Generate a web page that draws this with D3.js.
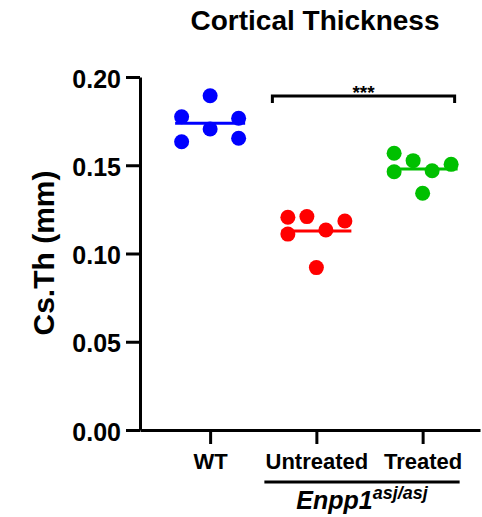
<!DOCTYPE html>
<html>
<head>
<meta charset="utf-8">
<script src="https://cdn.jsdelivr.net/npm/d3@7"></script>
<style>
  body { margin: 0; background: #fff; }
  svg text { font-family: "Liberation Sans", Arial, sans-serif; font-weight: bold; fill: #000; }
</style>
</head>
<body>
<div id="chart"></div>
<script>
// groups and colours
var groups = ["WT", "Untreated", "Treated"];
var groupColors = ["#0000ff", "#ff0000", "#00c000"];

// cortical thickness (mm) per animal
var wtValues = [0.1894, 0.1775, 0.1766, 0.1705, 0.1653, 0.1633];
var untreatedValues = [0.1209, 0.1205, 0.1184, 0.1133, 0.1110, 0.0920];
var treatedValues = [0.1568, 0.1526, 0.1505, 0.1469, 0.1463, 0.1341];

// scatter column slot of each point (GraphPad style spread)
var wtSlots = [0, -3, 3, 0, 3, -3];
var untreatedSlots = [-1, -3, 3, 1, -3, 0];
var treatedSlots = [-3, -1, 3, 1, -3, 0];

var yTicks = [0, 0.05, 0.10, 0.15, 0.20];

var W = 482, H = 517;
var slotStep = 9.5, dotR = 7.5, meanHalf = 35;

var svg = d3.select("#chart").append("svg")
  .attr("width", W)
  .attr("height", H);

var yScale = d3.scaleLinear().domain([0, 0.2]).range([430, 77]);
var xScale = d3.scalePoint().domain(groups).range([140, 480]).padding(0.6).align(0.55);

// title
svg.append("text")
  .attr("x", 315).attr("y", 30)
  .attr("text-anchor", "middle")
  .style("font-size", "28px")
  .text("Cortical Thickness");

// y axis
var yAxis = svg.append("g")
  .attr("transform", "translate(140,0)")
  .call(d3.axisLeft(yScale).tickValues(yTicks).tickFormat(d3.format(".2f")).tickSize(14).tickSizeOuter(0).tickPadding(5));

// x axis
var xAxis = svg.append("g")
  .attr("transform", "translate(0,430)")
  .call(d3.axisBottom(xScale).tickSize(14).tickSizeOuter(0));

[yAxis, xAxis].forEach(function(ax) {
  ax.select(".domain").attr("stroke", "#000").attr("stroke-width", 3);
  ax.selectAll(".tick line").attr("stroke", "#000").attr("stroke-width", 3);
  ax.selectAll(".tick text").attr("fill", "#000").style("font-family", null);
});
yAxis.selectAll(".tick text").style("font-size", "25px").attr("dy", "0.4em");
xAxis.selectAll(".tick text").style("font-size", "22px").attr("y", 39).attr("dy", 0);

// y axis label
svg.append("text")
  .attr("transform", "translate(54,253) rotate(-90)")
  .attr("text-anchor", "middle")
  .style("font-size", "30px")
  .text("Cs.Th (mm)");

// points and mean lines
var series = [wtValues, untreatedValues, treatedValues];
var slots = [wtSlots, untreatedSlots, treatedSlots];

series.forEach(function(vals, g) {
  var cx = xScale(groups[g]);
  var m = d3.mean(vals);

  svg.append("line")
    .attr("x1", cx - meanHalf).attr("x2", cx + meanHalf)
    .attr("y1", yScale(m)).attr("y2", yScale(m))
    .attr("stroke", groupColors[g])
    .attr("stroke-width", 3);

  svg.selectAll(".dot" + g)
    .data(vals)
    .enter().append("circle")
    .attr("class", "dot" + g)
    .attr("cx", function(d, i) { return cx + slots[g][i] * slotStep; })
    .attr("cy", function(d) { return yScale(d); })
    .attr("r", dotR)
    .attr("fill", groupColors[g]);
});

// significance bracket between untreated and treated
var bx1 = xScale("Untreated") - 44, bx2 = xScale("Treated") + 32, by = 96;
svg.append("path")
  .attr("d", "M" + bx1 + "," + (by + 7) + "V" + by + "H" + bx2 + "V" + (by + 7))
  .attr("fill", "none")
  .attr("stroke", "#000")
  .attr("stroke-width", 3);
svg.append("text")
  .attr("x", (bx1 + bx2) / 2).attr("y", by + 3)
  .attr("text-anchor", "middle")
  .style("font-size", "19px")
  .text("***");

// genotype group line + label
var gx1 = xScale("Untreated") - 52, gx2 = xScale("Treated") + 37;
svg.append("line")
  .attr("x1", gx1).attr("x2", gx2)
  .attr("y1", 482).attr("y2", 482)
  .attr("stroke", "#000")
  .attr("stroke-width", 3);

var gl = svg.append("text")
  .attr("x", (gx1 + gx2) / 2).attr("y", 509)
  .attr("text-anchor", "middle")
  .style("font-size", "25px")
  .style("font-style", "italic");
gl.append("tspan").text("Enpp1");
gl.append("tspan")
  .attr("dy", -10)
  .style("font-size", "18px")
  .text("asj/asj");
</script>
</body>
</html>
